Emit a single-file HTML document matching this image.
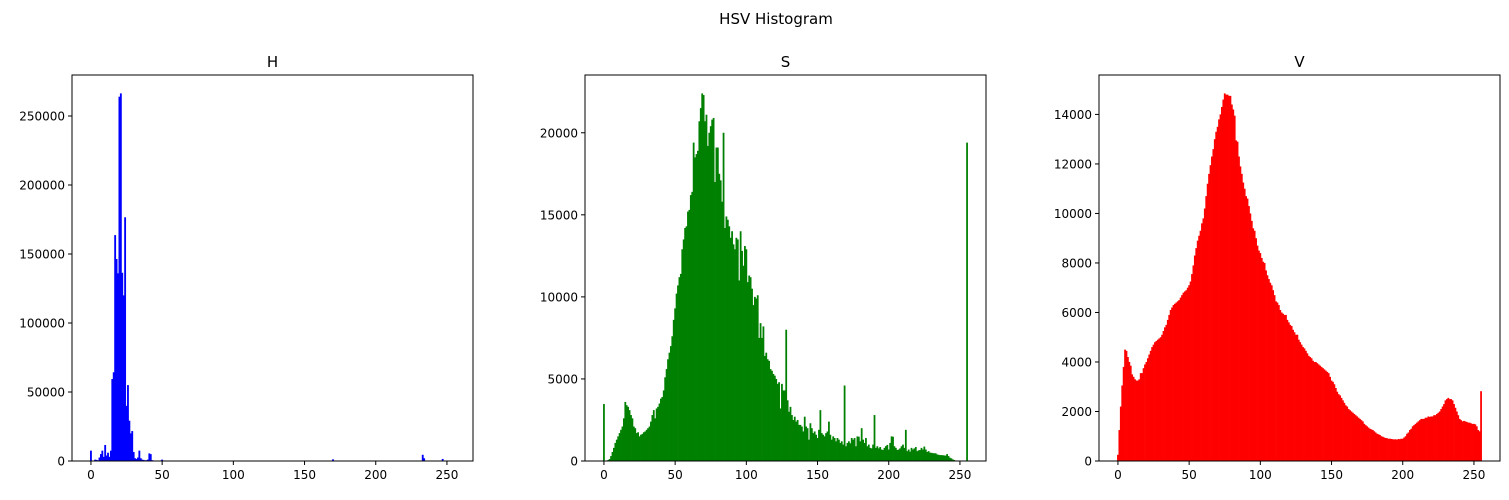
<!DOCTYPE html>
<html><head><meta charset="utf-8"><style>
body{margin:0;background:#fff;font-family:"Liberation Sans","DejaVu Sans",sans-serif;}
svg text{font-family:"DejaVu Sans","Liberation Sans",sans-serif;}
</style></head><body>
<svg id="c" width="1509" height="495" xmlns="http://www.w3.org/2000/svg">
<rect width="1509" height="495" fill="#fff"/>
<text x="776" y="24" font-size="15" text-anchor="middle">HSV Histogram</text>
</svg>
<script>
const binsH = [7500,300,200,1000,800,500,2500,5000,7500,3000,
11600,4000,6000,3000,7500,59400,64300,163700,146400,136000,
264000,266400,136400,120000,176600,40000,55000,29200,20000,21700,
6500,2000,1500,2500,7500,2000,1000,800,500,600,
1000,5500,5000,600,400,300,300,300,300,400,
1000,300,250,250,200,200,250,200,200,200,
200,200,200,250,200,200,200,200,200,200,
200,200,200,200,200,200,200,200,200,200,
200,200,200,200,200,200,200,200,200,200,
200,200,200,200,200,200,200,200,200,200,
200,200,200,200,200,200,200,200,200,200,
200,200,200,200,200,200,200,200,200,200,
200,200,200,200,200,200,200,200,200,200,
200,200,200,200,200,200,200,200,200,200,
200,200,200,200,200,200,200,200,200,200,
200,200,200,200,200,200,200,200,200,200,
200,200,200,200,200,200,200,200,200,200,
1200,200,200,200,200,200,200,200,200,200,
200,200,200,200,200,200,200,200,200,200,
200,200,200,200,200,200,200,200,200,200,
200,200,200,200,200,200,200,200,200,200,
200,200,200,200,200,200,200,200,200,200,
200,200,200,200,200,200,200,200,200,200,
200,200,200,4500,2000,200,200,200,200,200,
200,200,200,200,200,200,200,1500,200,200,
200,200,200,200,200,200];
const binsS = [3470,0,0,60,120,300,550,800,1100,1300,
1500,1700,1900,2100,2600,3600,3400,3300,3100,2800,
2600,2100,2000,1700,1750,1500,1600,1650,1750,1800,
1900,2000,2100,2400,2800,3100,2600,3200,3300,3500,
3800,3900,4300,5100,5600,6200,6600,7000,7600,8600,
9300,10200,10700,11200,11400,12900,13500,14200,14300,15200,
15300,16200,16400,19400,18500,18700,18900,20700,21500,22400,
22300,20700,21100,19200,20000,20400,20800,20900,17000,19100,
19100,17500,17100,15800,20000,14200,14900,14700,14300,13600,
14000,13200,12900,13600,13500,11000,14000,12800,11900,13100,
12900,10900,11300,11200,10500,9500,10000,9900,10100,7500,
8400,7500,8200,6400,6600,6200,6100,5600,5500,5300,
5200,5000,4700,4800,3200,4700,4300,4300,8000,3700,
3000,3300,2800,2500,2700,2400,2500,2200,2200,2100,
1800,2700,2100,2000,1300,2300,2000,1700,1800,1600,
1400,1900,3100,1700,1600,1500,1700,1800,2400,1600,
1300,1500,1400,1200,1400,1300,1100,1200,1000,4600,
900,1100,1200,1080,1400,1300,1400,900,1500,1480,
1200,2000,1300,1100,1400,900,1000,800,770,1000,
2800,800,900,770,850,700,670,800,900,980,
700,1100,1500,1480,900,800,670,700,770,900,
1000,800,1900,600,700,570,800,700,770,850,
600,650,670,800,700,880,700,550,600,510,
500,480,470,470,400,380,360,360,350,340,
330,420,300,200,160,100,60,30,20,10,
0,0,0,0,0,19400];
const binsV = [250,1250,2200,3050,3800,4500,4450,4200,4000,3850,
3500,3400,3300,3250,3250,3300,3550,3550,3750,3900,
4000,4150,4300,4450,4600,4700,4800,4850,4900,4950,
5000,5100,5250,5400,5500,5700,5900,6100,6200,6300,
6350,6400,6450,6500,6600,6700,6800,6850,6900,7000,
7100,7250,7550,7900,8300,8600,8900,9100,9300,9600,
9800,10200,10700,11200,11600,11950,12300,12600,13000,13300,
13500,13800,14000,14300,14600,14850,14800,14800,14750,14750,
14400,14200,13950,12950,12900,12300,11900,11600,11250,11000,
10700,10600,10300,10000,9700,9400,9300,9000,8700,8500,
8400,8200,8050,8000,7700,7500,7350,7200,7100,6900,
6700,6450,6400,6300,6100,6000,5950,5900,5900,5700,
5600,5500,5450,5300,5200,5100,5100,4900,4800,4700,
4600,4550,4450,4350,4250,4200,4150,4050,4000,4000,
3950,3900,3850,3800,3750,3700,3650,3600,3550,3400,
3250,3200,3100,2950,2800,2700,2650,2550,2450,2350,
2250,2200,2100,2050,2000,1950,1900,1850,1800,1750,
1700,1650,1600,1500,1450,1400,1350,1300,1280,1250,
1200,1150,1100,1080,1050,1000,980,950,930,920,
900,900,890,880,870,880,860,890,880,900,
900,950,1000,1100,1150,1250,1300,1400,1450,1500,
1550,1600,1650,1700,1700,1700,1750,1750,1800,1780,
1800,1800,1850,1850,1900,1950,2000,2100,2200,2300,
2450,2500,2550,2500,2500,2450,2300,2150,2000,1850,
1700,1650,1600,1620,1600,1580,1550,1550,1520,1500,
1500,1480,1400,1250,1200,2820];
const xTicks = [0,50,100,150,200,250];
const yTicksH = [0,50000,100000,150000,200000,250000];
const yTicksS = [0,5000,10000,15000,20000];
const yTicksV = [0,2000,4000,6000,8000,10000,12000,14000];

const NS = "http://www.w3.org/2000/svg";
const svg = document.getElementById('c');
function mk(tag, attrs, parent){const e=document.createElementNS(NS,tag);for(const k in attrs)e.setAttribute(k,attrs[k]);(parent||svg).appendChild(e);return e;}

function panel(key, title, data, yTicks, left, color, barW){
  const top=75, bottom=461, width=401;
  const xmin=-13.3, xmax=268.3;
  const ymax = Math.max(...data)*1.05;
  const X = v => left + (v-xmin)/(xmax-xmin)*width;
  const Y = v => bottom - v/ymax*(bottom-top);
  const g = mk('g',{});
  
  
  const bars = mk('g',{},g);
  
  
  data.forEach((v,i)=>{
    if(v<=0) return;
    const r = mk('rect',{x:X(i-barW/2),y:Y(v),width:X(i+barW/2)-X(i-barW/2),height:bottom-Y(v),fill:color},bars);
    
    
  });
  const frame = mk('rect',{x:left,y:top,width:width,height:bottom-top,fill:'none',stroke:'#000','stroke-width':1},g);
  
  
  xTicks.forEach(t=>{
    const x=X(t);
    mk('line',{x1:x,x2:x,y1:bottom,y2:bottom+4,stroke:'#000'},g);
    const tx = mk('text',{x:x,y:bottom+18,'font-size':12,'text-anchor':'middle'},g);
    tx.textContent=t;
    
    
  });
  yTicks.forEach(t=>{
    const y=Y(t);
    mk('line',{x1:left-4,x2:left,y1:y,y2:y,stroke:'#000'},g);
    const tx = mk('text',{x:left-7,y:y+4.5,'font-size':12,'text-anchor':'end'},g);
    tx.textContent=t;
    
    
  });
  const tt = mk('text',{x:left+width/2,y:top-8,'font-size':15,'text-anchor':'middle'},g);
  tt.textContent=title;
  
  
}
panel('h','H',binsH,yTicksH,72,'#0000ff',1.3);
panel('s','S',binsS,yTicksS,585,'#008000',1.25);
panel('v','V',binsV,yTicksV,1099,'#ff0000',1.25);
</script>
</body></html>
